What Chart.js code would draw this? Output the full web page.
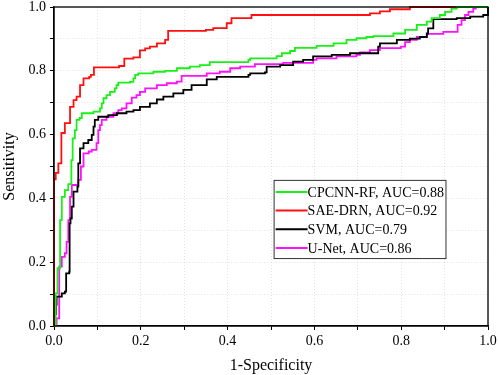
<!DOCTYPE html>
<html>
<head>
<meta charset="utf-8">
<script src="https://cdn.jsdelivr.net/npm/chart.js@4/dist/chart.umd.min.js"></script>
<style>
html,body{margin:0;padding:0;background:#fff;}
#wrap{width:498px;height:375px;position:relative;}
</style>
</head>
<body>
<div id="wrap"><canvas id="c" width="498" height="375"></canvas></div>
<script>
// ---- data ----
const seriesNames = ['CPCNN-RF, AUC=0.88', 'SAE-DRN, AUC=0.92', 'SVM, AUC=0.79', 'U-Net, AUC=0.86'];
const seriesColors = ['#19f019', '#ff1010', '#000000', '#ff10ff'];
const tickLabels = ['0.0', '0.2', '0.4', '0.6', '0.8', '1.0'];

const cpcnnX = [0,0.004,0.008,0.014,0.018,0.025,0.033,0.040,0.043,0.048,0.052,0.059,0.064,0.091,0.106,0.110,0.114,0.121,0.129,0.140,0.144,0.148,0.175,0.183,0.187,0.194,0.229,0.256,0.283,0.313,0.336,0.359,0.448,0.452,0.513,0.525,0.544,0.555,0.605,0.644,0.674,0.697,0.720,0.736,0.782,0.809,0.836,0.859,0.870,0.889,0.901,0.916,0.928,1.0];
const cpcnnY = [0,0.102,0.181,0.332,0.405,0.426,0.445,0.520,0.588,0.614,0.646,0.652,0.667,0.672,0.682,0.698,0.714,0.724,0.734,0.745,0.755,0.763,0.765,0.776,0.787,0.792,0.797,0.800,0.808,0.813,0.818,0.827,0.834,0.839,0.846,0.855,0.862,0.872,0.878,0.886,0.897,0.902,0.906,0.909,0.917,0.928,0.944,0.954,0.965,0.975,0.985,0.995,1.0,1.0];

const saeX = [0,0,0.004,0.010,0.017,0.025,0.037,0.045,0.052,0.060,0.068,0.081,0.085,0.092,0.150,0.162,0.183,0.198,0.210,0.221,0.237,0.256,0.263,0.350,0.367,0.398,0.409,0.455,0.720,0.728,0.751,0.774,0.820,1.0];
const saeY = [0,0.460,0.480,0.510,0.605,0.636,0.687,0.708,0.719,0.755,0.776,0.781,0.787,0.811,0.815,0.838,0.842,0.864,0.870,0.876,0.886,0.897,0.925,0.928,0.934,0.949,0.965,0.975,0.975,0.980,0.986,0.993,1.0,1.0];

const svmX = [0,0,0.005,0.006,0.018,0.025,0.028,0.035,0.036,0.038,0.041,0.045,0.054,0.056,0.060,0.068,0.079,0.087,0.091,0.094,0.102,0.125,0.145,0.167,0.183,0.198,0.221,0.237,0.252,0.275,0.298,0.317,0.352,0.375,0.448,0.452,0.486,0.490,0.521,0.551,0.574,0.597,0.640,0.682,0.720,0.747,0.751,0.790,0.820,0.843,0.859,0.862,0.874,0.928,0.959,0.989,1.0];
const svmY = [0,0.037,0.066,0.092,0.102,0.108,0.165,0.170,0.322,0.337,0.374,0.421,0.437,0.510,0.557,0.573,0.583,0.599,0.625,0.646,0.656,0.661,0.667,0.672,0.677,0.687,0.698,0.710,0.719,0.729,0.740,0.755,0.773,0.781,0.787,0.792,0.795,0.813,0.818,0.829,0.834,0.845,0.850,0.855,0.855,0.876,0.886,0.897,0.901,0.906,0.917,0.933,0.962,0.965,0.970,0.975,1.0];

const unetX = [0.006,0.006,0.012,0.012,0.018,0.025,0.029,0.033,0.037,0.041,0.056,0.062,0.068,0.080,0.087,0.098,0.102,0.106,0.110,0.121,0.137,0.148,0.156,0.167,0.179,0.190,0.198,0.210,0.237,0.260,0.283,0.294,0.352,0.382,0.406,0.429,0.463,0.528,0.597,0.605,0.651,0.697,0.705,0.728,0.751,0.799,0.809,0.820,0.836,0.859,0.897,0.930,0.939,0.947,0.955,0.966,0.972,1.0];
const unetY = [0,0.024,0.087,0.186,0.217,0.228,0.264,0.332,0.405,0.442,0.458,0.500,0.541,0.547,0.552,0.573,0.614,0.630,0.646,0.656,0.667,0.677,0.682,0.698,0.716,0.724,0.734,0.745,0.755,0.761,0.766,0.784,0.792,0.797,0.808,0.813,0.821,0.825,0.834,0.839,0.845,0.850,0.858,0.865,0.871,0.876,0.890,0.897,0.906,0.916,0.922,0.944,0.959,0.975,0.985,0.995,1.0,1.0];

const xsList = [cpcnnX, saeX, svmX, unetX];
const ysList = [cpcnnY, saeY, svmY, unetY];

function toPoints(xs, ys){
  const pts = [];
  for (let i = 0; i < xs.length; i++) pts.push({x: xs[i], y: ys[i]});
  for (let i = 1; i < pts.length; i++) if (pts[i].x < pts[i-1].x) pts[i].x = pts[i-1].x;
  return pts;
}

const datasets = seriesNames.map((name, i) => ({
  label: name,
  data: toPoints(xsList[i], ysList[i]),
  borderColor: seriesColors[i],
  backgroundColor: seriesColors[i],
  borderWidth: 1.8,
  pointRadius: 0,
  stepped: 'before',
  fill: false,
  clip: false
}));

const FONT = '"Liberation Serif", "Times New Roman", serif';

const frame = {
  id: 'frame',
  afterDatasetsDraw(chart){
    const {ctx, chartArea: a} = chart;
    ctx.save();
    ctx.strokeStyle = '#000';
    ctx.lineWidth = 1.3;
    ctx.strokeRect(a.left, a.top, a.right - a.left, a.bottom - a.top);
    ctx.restore();
  }
};

const boxLegend = {
  id: 'boxLegend',
  afterDraw(chart){
    const {ctx} = chart;
    const xs = chart.scales.x, ys = chart.scales.y;
    const left = xs.getPixelForValue(0.506);
    const right = xs.getPixelForValue(0.902);
    const top = ys.getPixelForValue(0.458);
    const bottom = ys.getPixelForValue(0.213);
    ctx.save();
    ctx.fillStyle = '#fff';
    ctx.fillRect(left, top, right - left, bottom - top);
    ctx.strokeStyle = '#333';
    ctx.lineWidth = 1;
    ctx.strokeRect(left + 0.5, top + 0.5, right - left, bottom - top);
    ctx.font = '14px ' + FONT;
    ctx.textBaseline = 'middle';
    ctx.textAlign = 'left';
    const rowH = 18.7;
    chart.data.datasets.forEach((d, i) => {
      const y = top + 12 + i * rowH;
      ctx.strokeStyle = d.borderColor;
      ctx.lineWidth = 2;
      ctx.beginPath();
      ctx.moveTo(left + 2, y);
      ctx.lineTo(left + 34, y);
      ctx.stroke();
      ctx.fillStyle = '#000';
      ctx.fillText(d.label, left + 34, y + 1);
    });
    ctx.restore();
  }
};

function tickCb(v){
  const k = Math.round(v * 10);
  return k % 2 === 0 ? tickLabels[k / 2] : '';
}

new Chart(document.getElementById('c'), {
  type: 'line',
  data: { datasets },
  options: {
    responsive: false,
    animation: false,
    devicePixelRatio: 1,
    layout: { padding: { left: 0, top: 7, right: 10, bottom: 0 } },
    plugins: { legend: { display: false }, tooltip: { enabled: false } },
    scales: {
      x: {
        type: 'linear', min: 0, max: 1,
        afterFit(s){ s.height = 49; s.paddingRight = 0; s.paddingLeft = 0; },
        ticks: { stepSize: 0.1, autoSkip: false, maxRotation: 0, color: '#000', padding: 3,
                 font: { family: FONT, size: 14 }, callback: tickCb },
        grid: { color: 'rgba(190,190,190,0.45)', tickColor: '#000', tickLength: 4, lineWidth: 1 },
        border: { color: '#000', width: 1.3, dash: [1,2] },
        title: { display: true, text: '1-Specificity', color: '#000', padding: { top: 2, bottom: 0 },
                 font: { family: FONT, size: 16 } }
      },
      y: {
        type: 'linear', min: 0, max: 1,
        afterFit(s){ s.width = 54; s.paddingTop = 0; s.paddingBottom = 0; },
        ticks: { stepSize: 0.1, autoSkip: false, color: '#000', padding: 4,
                 font: { family: FONT, size: 14 }, callback: tickCb },
        grid: { color: 'rgba(190,190,190,0.45)', tickColor: '#000', tickLength: 4, lineWidth: 1 },
        border: { color: '#000', width: 1.3, dash: [1,2] },
        title: { display: true, text: 'Sensitivity', color: '#000', padding: { top: 0, bottom: 4 },
                 font: { family: FONT, size: 16 } }
      }
    }
  },
  plugins: [frame, boxLegend]
});
</script>
</body>
</html>
